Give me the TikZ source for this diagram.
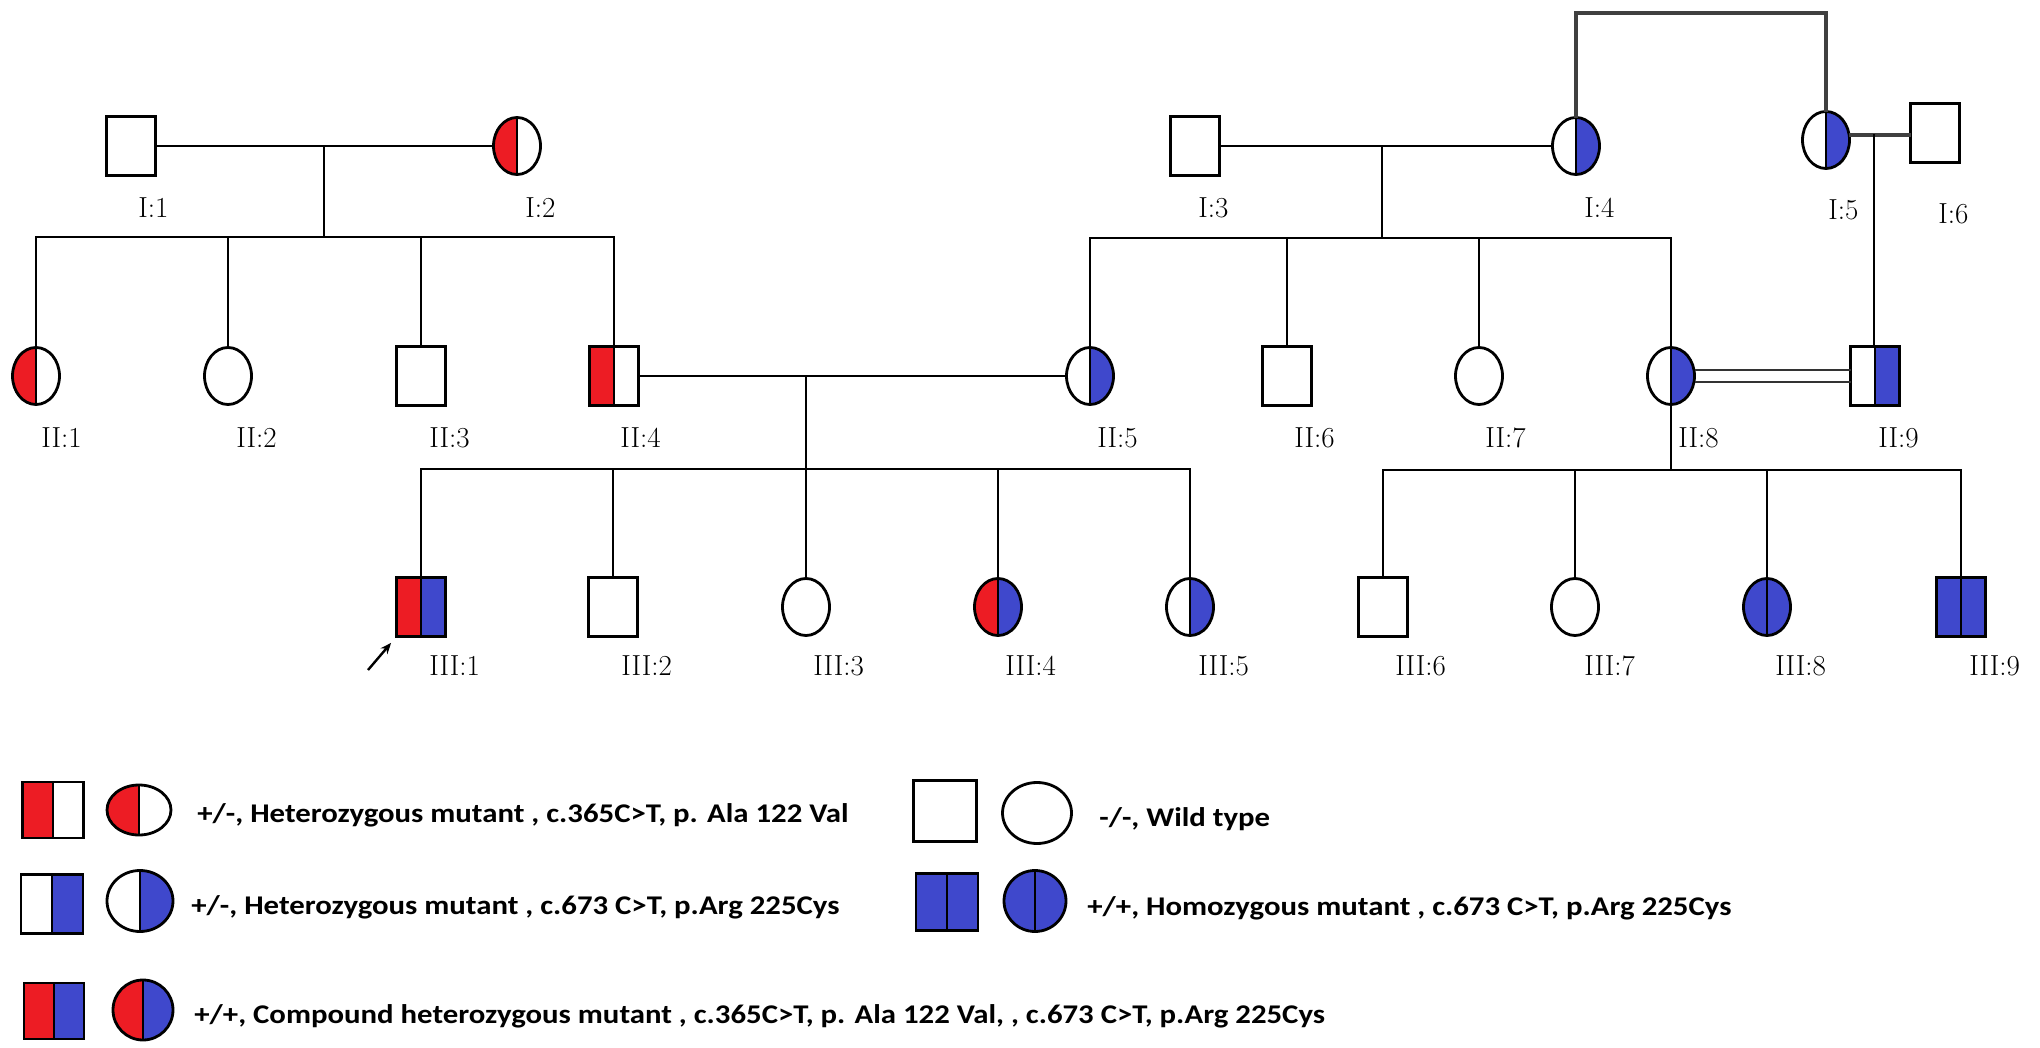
\documentclass[tikz,border=0pt]{standalone}
\usepackage{fontspec}
\newfontfamily\legendfont[FakeStretch=1.14]{Carlito}
\usepackage{tikz}
\usetikzlibrary{arrows.meta, shapes.geometric}

\definecolor{hetred}{HTML}{ED1C24}
\definecolor{hetblue}{HTML}{3F48CC}

\tikzset{
    male/.style={rectangle, draw, line width=2.8pt, minimum width=49pt, minimum height=59pt, inner sep=0pt},
    female/.style={ellipse, draw, line width=2.8pt, minimum width=47pt, minimum height=57pt, inner sep=0pt},
    redleft/.style={path picture={
        \fill[hetred] (path picture bounding box.north west) rectangle (path picture bounding box.south);
        \draw[line width=1.8pt] (path picture bounding box.north) -- (path picture bounding box.south);}},
    blueright/.style={path picture={
        \fill[hetblue] (path picture bounding box.north) rectangle (path picture bounding box.south east);
        \draw[line width=1.8pt] (path picture bounding box.north) -- (path picture bounding box.south);}},
    redblue/.style={path picture={
        \fill[hetred] (path picture bounding box.north west) rectangle (path picture bounding box.south);
        \fill[hetblue] (path picture bounding box.north) rectangle (path picture bounding box.south east);
        \draw[line width=1.8pt] (path picture bounding box.north) -- (path picture bounding box.south);}},
    bluefull/.style={fill=hetblue, path picture={
        \draw[line width=1.8pt] (path picture bounding box.north) -- (path picture bounding box.south);}},
    idlab/.style={anchor=west, inner sep=0pt, font=\fontsize{29}{30}\selectfont},
    legtxt/.style={anchor=base west, inner sep=0pt, font=\legendfont\bfseries\fontsize{27}{29}\selectfont},
}

\begin{document}
\begin{tikzpicture}[x=1pt, y=-1pt, line width=2.8pt, every path/.append style={line cap=rect}]
    \useasboundingbox (0, 0) rectangle (2040, 1048);

    % generation I
    \node[male]              at (131, 146)  (i1) {};
    \node[female, redleft]   at (517, 146)  (i2) {};
    \node[male]              at (1195, 146) (i3) {};
    \node[female, blueright] at (1576, 146) (i4) {};
    \node[female, blueright] at (1826, 140) (i5) {};
    \node[male]              at (1935, 133) (i6) {};

    % generation II
    \node[female, redleft]   at (36, 376)   (ii1) {};
    \node[female]            at (228, 376)  (ii2) {};
    \node[male]              at (421, 376)  (ii3) {};
    \node[male, redleft]     at (614, 376)  (ii4) {};
    \node[female, blueright] at (1090, 376) (ii5) {};
    \node[male]              at (1287, 376) (ii6) {};
    \node[female]            at (1479, 376) (ii7) {};
    \node[female, blueright] at (1671, 376) (ii8) {};
    \node[male, blueright]   at (1875, 376) (ii9) {};

    % generation III
    \node[male, redblue]     at (421, 607)  (iii1) {};
    \node[male]              at (613, 607)  (iii2) {};
    \node[female]            at (806, 607)  (iii3) {};
    \node[female, redblue]   at (998, 607)  (iii4) {};
    \node[female, blueright] at (1190, 607) (iii5) {};
    \node[male]              at (1383, 607) (iii6) {};
    \node[female]            at (1575, 607) (iii7) {};
    \node[female, bluefull]  at (1767, 607) (iii8) {};
    \node[male, bluefull]    at (1961, 607) (iii9) {};

    % labels
    \node[idlab] at (137, 208)  (li1) {I:1};
    \node[idlab] at (524, 208)  (li2) {I:2};
    \node[idlab] at (1197, 208) (li3) {I:3};
    \node[idlab] at (1583, 208) (li4) {I:4};
    \node[idlab] at (1827, 210) (li5) {I:5};
    \node[idlab] at (1937, 214) (li6) {I:6};
    \node[idlab] at (40, 438)   (lii1) {II:1};
    \node[idlab] at (235, 438)  (lii2) {II:2};
    \node[idlab] at (428, 438)  (lii3) {II:3};
    \node[idlab] at (619, 438)  (lii4) {II:4};
    \node[idlab] at (1096, 438) (lii5) {II:5};
    \node[idlab] at (1293, 438) (lii6) {II:6};
    \node[idlab] at (1484, 438) (lii7) {II:7};
    \node[idlab] at (1677, 438) (lii8) {II:8};
    \node[idlab] at (1877, 438) (lii9) {II:9};
    \node[idlab] at (428, 666)  (liii1) {III:1};
    \node[idlab] at (620, 666)  (liii2) {III:2};
    \node[idlab] at (812, 666)  (liii3) {III:3};
    \node[idlab] at (1004, 666) (liii4) {III:4};
    \node[idlab] at (1197, 666) (liii5) {III:5};
    \node[idlab] at (1394, 666) (liii6) {III:6};
    \node[idlab] at (1583, 666) (liii7) {III:7};
    \node[idlab] at (1774, 666) (liii8) {III:8};
    \node[idlab] at (1968, 666) (liii9) {III:9};

    % matings and sibships
    \coordinate (m12) at (324, 146);
    \coordinate (s12) at (324, 237);
    \coordinate (m34) at (1382, 146);
    \coordinate (s34) at (1382, 238);
    \coordinate (m45) at (806, 376);
    \coordinate (s45) at (806, 469);
    \coordinate (s89) at (1671, 470);
    \coordinate (m56) at (1874, 135);
    \coordinate (top45) at (1700, 13);

    \draw (i1) -- (i2);
    \draw (m12) -- (s12);
    \draw (ii1.north) |- (s12) -| (ii4.north);
    \draw (ii2.north) -- (ii2.north |- s12);
    \draw (ii3.north) -- (ii3.north |- s12);

    \draw (i3) -- (i4);
    \draw (m34) -- (s34);
    \draw (ii5.north) |- (s34) -| (ii8.north);
    \draw (ii6.north) -- (ii6.north |- s34);
    \draw (ii7.north) -- (ii7.north |- s34);

    \draw[line width=3.6pt, black!75] (i4.north) |- (top45) -| (i5.north);
    \draw[line width=3.6pt, black!75] (i5.east |- m56) -- (i6.west |- m56);
    \draw (m56) -- (m56 |- ii9.north);

    \draw (ii4) -- (ii5);
    \draw (m45) -- (s45);
    \draw (iii1.north) |- (s45) -| (iii5.north);
    \draw (iii2.north) -- (iii2.north |- s45);
    \draw (iii3.north) -- (iii3.north |- s45);
    \draw (iii4.north) -- (iii4.north |- s45);

    \draw[black!80] ([yshift=6pt]ii8.east) -- ([yshift=6pt]ii9.west);
    \draw[black!80] ([yshift=-6pt]ii8.east) -- ([yshift=-6pt]ii9.west);
    \draw (ii8.south) -- (s89);
    \draw (iii6.north) |- (s89) -| (iii9.north);
    \draw (iii7.north) -- (iii7.north |- s89);
    \draw (iii8.north) -- (iii8.north |- s89);

    % proband
    \coordinate (proband) at (368, 670);
    \draw[-{Stealth[length=11pt, width=9pt]}, line width=2.4pt, line cap=butt] (proband) -- ([shift={(-4pt,-5pt)}]iii1.south west);

    % legend
    \node[male, redleft, minimum width=61pt, minimum height=56pt]    at (53, 810)   (k1m) {};
    \node[female, redleft, minimum width=64pt, minimum height=50pt]  at (139, 810)  (k1f) {};
    \node[male, blueright, minimum width=62pt, minimum height=59pt]  at (52, 904)   (k2m) {};
    \node[female, blueright, minimum width=66pt, minimum height=61pt] at (140, 901) (k2f) {};
    \node[male, redblue, minimum width=60pt, minimum height=56pt]    at (54, 1011)  (k3m) {};
    \node[female, redblue, minimum width=60pt, minimum height=60pt]  at (143, 1010) (k3f) {};
    \node[male, minimum width=63pt, minimum height=61pt]             at (945, 811)  (k4m) {};
    \node[female, minimum width=69pt, minimum height=61pt]           at (1037, 813) (k4f) {};
    \node[male, bluefull, minimum width=62pt, minimum height=57pt]   at (947, 902)  (k5m) {};
    \node[female, bluefull, minimum width=62pt, minimum height=61pt] at (1035, 901) (k5f) {};

    \node[legtxt] at (196, 822)  (t1) {+/-, Heterozygous mutant , c.365C>T, p. Ala 122 Val};
    \node[legtxt] at (190, 914)  (t2) {+/-, Heterozygous mutant , c.673 C>T, p.Arg 225Cys};
    \node[legtxt] at (193, 1023) (t3) {+/+, Compound heterozygous mutant , c.365C>T, p. Ala 122 Val, , c.673 C>T, p.Arg 225Cys};
    \node[legtxt] at (1098, 826) (t4) {-/-, Wild type};
    \node[legtxt] at (1086, 915) (t5) {+/+, Homozygous mutant , c.673 C>T, p.Arg 225Cys};
\end{tikzpicture}
\end{document}
